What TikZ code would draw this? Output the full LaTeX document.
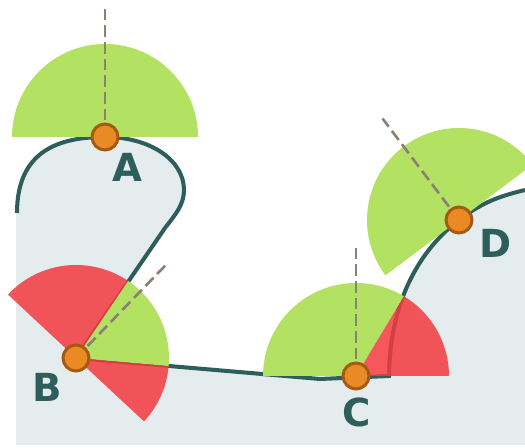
\documentclass[tikz,border=0pt]{standalone}
\usepackage{fontspec}
\setmainfont{DejaVu Sans}[BoldFont={DejaVu Sans Bold}]
\usepackage{tikz}
\usetikzlibrary{positioning, calc}

\definecolor{surf}{RGB}{46,94,92}
\definecolor{solidgray}{RGB}{228,236,238}
\definecolor{okgreen}{RGB}{179,226,99}
\definecolor{badred}{RGB}{243,58,62}
\definecolor{dotfill}{RGB}{234,138,36}
\definecolor{dotrim}{RGB}{165,90,20}
\definecolor{nrmgray}{RGB}{140,128,118}

\begin{document}
\begin{tikzpicture}[x=0.02cm, y=0.02cm,
		vis/.style={fill=okgreen},
		hid/.style={fill=badred, fill opacity=0.85},
		nrm/.style={draw=nrmgray, line width=1.5pt, dash pattern=on 6.5pt off 3pt},
		pt/.style={circle, fill=dotfill, draw=dotrim, line width=1.7pt, minimum size=0.52cm, inner sep=0pt},
		lbl/.style={text=surf, font=\fontsize{22}{26}\selectfont\bfseries}]
	\useasboundingbox (0,0) rectangle (525,448);
	% punti sulla superficie
	\coordinate (pA) at (105,311);
	\coordinate (pB) at (76,90);
	\coordinate (pC) at (356,72);
	\coordinate (pD) at (459,228);
	\coordinate (nA) at ($(pA)+(90:132)$);
	\coordinate (nB) at ($(pB)+(46:131)$);
	\coordinate (nC) at ($(pC)+(90:130)$);
	\coordinate (nD) at ($(pD)+(127:127)$);
	% solido
	\fill[solidgray] (16,235) .. controls (16,298) and (60,311) .. (pA)
		.. controls (150,311) and (184,288) .. (184,258)
		.. controls (184,243) and (175,233) .. (165,220) -- (pB) -- (320,69) -- (389,72)
		.. controls (390,148) and (420,198) .. (pD)
		.. controls (485,248) and (505,253) .. (525,258) -- (525,3) -- (16,3) -- cycle;
	\draw[surf, line width=2.3pt] (17,235) .. controls (17,298) and (60,311) .. (pA)
		.. controls (150,311) and (184,288) .. (184,258)
		.. controls (184,243) and (175,233) .. (165,220) -- (pB) -- (320,69) -- (389,72)
		.. controls (390,148) and (420,198) .. (pD)
		.. controls (485,248) and (505,253) .. (525,258);
	% semidischi
	\fill[vis] (pA) -- ++(0:93) arc (0:180:93) -- cycle;
	\fill[vis] (pB) -- ++(-5:93) arc (-5:56:93) -- cycle;
	\fill[hid] (pB) -- ++(-43:93) arc (-43:-5:93) -- cycle;
	\fill[hid] (pB) -- ++(56:93) arc (56:137:93) -- cycle;
	\fill[vis] (pC) -- ++(59:93) arc (59:180:93) -- cycle;
	\fill[hid] (pC) -- ++(0:93) arc (0:59:93) -- cycle;
	\fill[vis] (pD) -- ++(37:92) arc (37:217:92) -- cycle;
	% normali
	\draw[nrm] (pA) -- (nA);
	\draw[nrm] (pB) -- (nB);
	\draw[nrm] (pC) -- (nC);
	\draw[nrm] (pD) -- (nD);
	\node[pt] (A) at (pA) {};
	\node[pt] (B) at (pB) {};
	\node[pt] (C) at (pC) {};
	\node[pt] (D) at (pD) {};
	\node[lbl] (labA) at ($(pA)+(22,-30)$) {A};
	\node[lbl] (labB) at ($(pB)+(-29,-29)$) {B};
	\node[lbl] (labC) at ($(pC)+(1,-36)$) {C};
	\node[lbl] (labD) at ($(pD)+(37,-23)$) {D};
\end{tikzpicture}
\end{document}
